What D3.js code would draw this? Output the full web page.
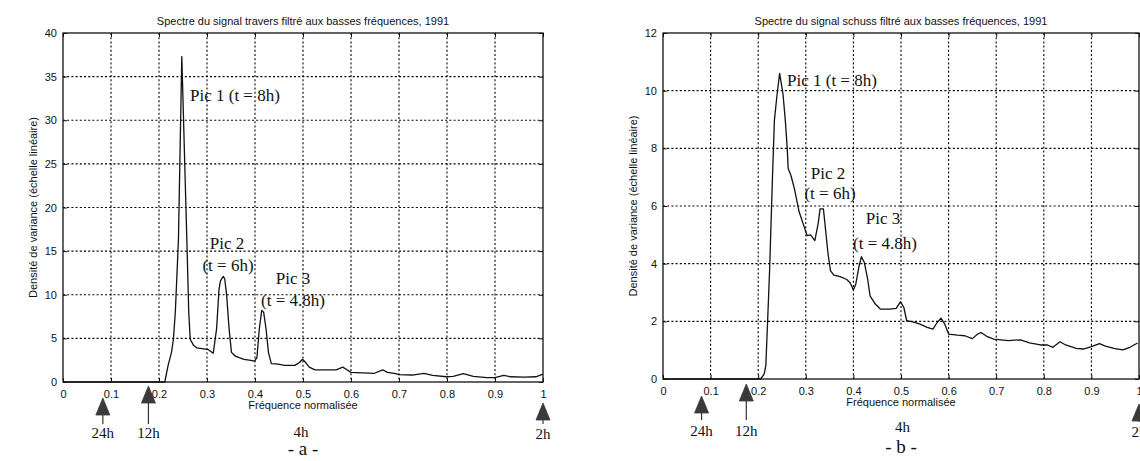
<!DOCTYPE html>
<html>
<head>
<meta charset="utf-8">
<script src="https://cdn.jsdelivr.net/npm/d3@7"></script>
<style>
  html, body { margin: 0; padding: 0; background: #fff; }
  svg { display: block; }
</style>
</head>
<body>
<svg id="chart" width="1140" height="461"></svg>
<script>
// ---------------- DATA ----------------
const titleA = "Spectre du signal travers filtré aux basses fréquences, 1991";
const titleB = "Spectre du signal schuss filtré aux basses fréquences, 1991";
const xLabel = "Fréquence normalisée";
const yLabel = "Densité de variance (échelle linéaire)";

const xTicks = [0, 0.1, 0.2, 0.3, 0.4, 0.5, 0.6, 0.7, 0.8, 0.9, 1];
const yTicksA = [0, 5, 10, 15, 20, 25, 30, 35, 40];
const yTicksB = [0, 2, 4, 6, 8, 10, 12];

// Panel a : spectre "travers"
const freqA = [0, 0.1, 0.2, 0.212, 0.219, 0.226, 0.230, 0.234, 0.2405, 0.2475, 0.258, 0.262,
  0.265, 0.272, 0.279, 0.293, 0.303, 0.313, 0.320, 0.325, 0.328, 0.334, 0.337, 0.341, 0.346,
  0.351, 0.358, 0.367, 0.377, 0.388, 0.399, 0.404, 0.409, 0.414, 0.418, 0.423, 0.428, 0.434,
  0.448, 0.462, 0.473, 0.483, 0.492, 0.499, 0.506, 0.513, 0.525, 0.546, 0.569, 0.583, 0.593,
  0.600, 0.624, 0.649, 0.666, 0.676, 0.693, 0.700, 0.728, 0.752, 0.770, 0.799, 0.813, 0.834,
  0.855, 0.883, 0.900, 0.918, 0.932, 0.960, 0.985, 1.0];
const valA = [0, 0, 0, 0, 1.9, 3.4, 4.9, 8, 16.3, 37.3, 16.3, 8,
  4.9, 4.2, 3.9, 3.8, 3.7, 3.3, 6.1, 10.6, 11.6, 12.1, 11.8, 9.9, 6.1,
  3.4, 3.0, 2.8, 2.6, 2.5, 2.4, 2.8, 6.1, 8.2, 8.0, 6.1, 3.4, 2.1,
  2.05, 1.9, 1.9, 1.9, 2.2, 2.6, 2.2, 1.7, 1.4, 1.4, 1.4, 1.7, 1.35,
  1.1, 1.05, 1.0, 1.4, 1.1, 0.95, 0.85, 0.8, 1.0, 0.75, 0.6, 0.65, 0.95,
  0.65, 0.5, 0.5, 0.75, 0.6, 0.55, 0.6, 0.9];

// Panel b : spectre "schuss"
const freqB = [0, 0.1, 0.205, 0.2125, 0.216, 0.220, 0.224, 0.230, 0.234, 0.239, 0.245, 0.252,
  0.257, 0.261, 0.263, 0.269, 0.276, 0.286, 0.297, 0.303, 0.310, 0.319, 0.326, 0.330, 0.337,
  0.341, 0.347, 0.352, 0.359, 0.372, 0.386, 0.393, 0.400, 0.405, 0.412, 0.417, 0.423, 0.430,
  0.435, 0.446, 0.457, 0.476, 0.490, 0.499, 0.506, 0.512, 0.525, 0.540, 0.555, 0.567, 0.576,
  0.584, 0.592, 0.600, 0.619, 0.634, 0.650, 0.661, 0.668, 0.680, 0.695, 0.710, 0.725, 0.751,
  0.770, 0.793, 0.808, 0.819, 0.834, 0.846, 0.868, 0.883, 0.900, 0.917, 0.928, 0.947, 0.966,
  0.981, 0.997];
const valB = [0, 0, 0, 0.17, 0.46, 2.1, 3.8, 7.0, 8.96, 9.77, 10.6, 9.9,
  8.96, 8.0, 7.3, 7.05, 6.6, 5.8, 5.26, 4.97, 5.0, 4.8, 5.4, 5.9, 5.9,
  5.26, 4.3, 3.75, 3.6, 3.55, 3.45, 3.34, 3.09, 3.29, 3.92, 4.24, 4.04, 3.46,
  2.88, 2.6, 2.42, 2.42, 2.45, 2.68, 2.48, 2.02, 1.98, 1.9, 1.79, 1.73, 1.96,
  2.11, 1.9, 1.56, 1.52, 1.5, 1.4, 1.56, 1.61, 1.48, 1.38, 1.36, 1.33, 1.36,
  1.25, 1.18, 1.18, 1.1, 1.29, 1.18, 1.06, 1.04, 1.12, 1.23, 1.15, 1.06, 1.01,
  1.1, 1.25];

// Peak annotations
const peakLines1 = ["Pic 1 (t = 8h)", "Pic 2", "(t = 6h)", "Pic 3", "(t = 4.8h)"];
// Period markers below the axis
const periodLabels = ["24h", "12h", "4h", "2h"];
const periodFreqA = [0.083, 0.178, 0.496, 1.0];
const periodFreqB = [0.081, 0.175, 0.503, 1.0];
const periodArrow = [true, true, false, true];
const panelTags = ["- a -", "- b -"];

// ---------------- DRAW ----------------
const svg = d3.select("#chart");
svg.append("rect").attr("width", 1140).attr("height", 461).attr("fill", "#fff");

function drawPanel(cfg) {
  const g = svg.append("g");
  const x = d3.scaleLinear().domain([0, 1]).range([cfg.left, cfg.right]);
  const y = d3.scaleLinear().domain([0, cfg.ymax]).range([cfg.bottom, cfg.top]);

  // grid
  g.append("g").selectAll("line.gx").data(xTicks.slice(1, -1)).join("line")
    .attr("x1", d => x(d)).attr("x2", d => x(d))
    .attr("y1", cfg.top).attr("y2", cfg.bottom)
    .attr("stroke", "#000").attr("stroke-width", 1.1).attr("stroke-dasharray", "2,2.2");
  g.append("g").selectAll("line.gy").data(cfg.yTicks.slice(1, -1)).join("line")
    .attr("y1", d => y(d)).attr("y2", d => y(d))
    .attr("x1", cfg.left).attr("x2", cfg.right)
    .attr("stroke", "#000").attr("stroke-width", 1.1).attr("stroke-dasharray", "2,2.2");

  // axes (ticks inward like MATLAB)
  const axB = d3.axisBottom(x).tickValues(xTicks).tickSizeInner(-4).tickSizeOuter(0)
    .tickPadding(8).tickFormat(d => d3.format("~g")(d));
  const axL = d3.axisLeft(y).tickValues(cfg.yTicks).tickSizeInner(-4).tickSizeOuter(0)
    .tickPadding(6).tickFormat(d => d3.format("~g")(d));
  const axT = d3.axisTop(x).tickValues(xTicks).tickSizeInner(-4).tickSizeOuter(0).tickFormat("");
  const axR = d3.axisRight(y).tickValues(cfg.yTicks).tickSizeInner(-4).tickSizeOuter(0).tickFormat("");

  const gb = g.append("g").attr("transform", `translate(0,${cfg.bottom})`).call(axB);
  const gl = g.append("g").attr("transform", `translate(${cfg.left},0)`).call(axL);
  g.append("g").attr("transform", `translate(0,${cfg.top})`).call(axT);
  g.append("g").attr("transform", `translate(${cfg.right},0)`).call(axR);
  g.selectAll(".domain").remove();
  g.selectAll(".tick line").attr("stroke", "#111");
  [gb, gl].forEach(a => a.selectAll("text")
    .attr("font-family", "Liberation Sans, Arial, sans-serif")
    .attr("font-size", 11).attr("fill", "#111"));

  // frame
  g.append("rect").attr("x", cfg.left).attr("y", cfg.top)
    .attr("width", cfg.right - cfg.left).attr("height", cfg.bottom - cfg.top)
    .attr("fill", "none").attr("stroke", "#111").attr("stroke-width", 1.3);

  // curve
  const pts = cfg.freq.map((f, i) => [f, cfg.vals[i]]);
  g.append("path").datum(pts)
    .attr("d", d3.line().x(d => x(d[0])).y(d => y(d[1])))
    .attr("fill", "none").attr("stroke", "#111").attr("stroke-width", 1.3)
    .attr("stroke-linejoin", "round");

  // title
  g.append("text").attr("x", (cfg.left + cfg.right) / 2).attr("y", 25)
    .attr("text-anchor", "middle").attr("font-family", "Liberation Sans, Arial, sans-serif")
    .attr("font-size", 11).attr("fill", "#111").text(cfg.title);

  // axis labels
  g.append("text").attr("x", (cfg.left + cfg.right) / 2).attr("y", cfg.bottom + 27)
    .attr("text-anchor", "middle").attr("font-family", "Liberation Sans, Arial, sans-serif")
    .attr("font-size", 11).attr("fill", "#111").text(xLabel);
  g.append("text")
    .attr("transform", `translate(${cfg.left - 26},${(cfg.top + cfg.bottom) / 2}) rotate(-90)`)
    .attr("text-anchor", "middle").attr("font-family", "Liberation Sans, Arial, sans-serif")
    .attr("font-size", 11).attr("fill", "#111").text(yLabel);

  // peak annotations
  const serif = "Liberation Serif, Times New Roman, serif";
  cfg.notes.forEach((n, i) => {
    g.append("text").attr("x", n[0]).attr("y", n[1]).attr("text-anchor", n[2])
      .attr("font-family", serif).attr("font-size", 17).attr("fill", "#111")
      .text(peakLines1[i]);
  });

  // period markers
  periodLabels.forEach((lab, i) => {
    const px = x(cfg.periods[i]);
    const m = cfg.marks[i];
    if (periodArrow[i]) {
      g.append("line").attr("x1", px).attr("x2", px)
        .attr("y1", m.tip + 10).attr("y2", m.stem)
        .attr("stroke", "#333").attr("stroke-width", 1.2);
      g.append("path")
        .attr("d", `M${px},${m.tip} L${px - 7},${m.tip + 17} L${px + 7},${m.tip + 17} Z`)
        .attr("fill", "#3a3a3a").attr("stroke", "#3a3a3a").attr("stroke-width", 0.8)
        .attr("stroke-linejoin", "round");
    }
    g.append("text").attr("x", px).attr("y", m.text).attr("text-anchor", "middle")
      .attr("font-family", serif).attr("font-size", 15).attr("fill", "#111").text(lab);
  });

  g.append("text").attr("x", x(0.5)).attr("y", cfg.tagY).attr("text-anchor", "middle")
    .attr("font-family", serif).attr("font-size", 19).attr("fill", "#111").text(cfg.tag);
}

drawPanel({
  left: 63, right: 543, top: 33, bottom: 382, ymax: 40, yTicks: yTicksA,
  freq: freqA, vals: valA, title: titleA, tag: panelTags[0], tagY: 455,
  periods: periodFreqA,
  marks: [{tip: 398, stem: 424, text: 438}, {tip: 386, stem: 424, text: 438},
          {tip: 0, stem: 0, text: 437}, {tip: 403, stem: 424, text: 439}],
  notes: [[190, 101, "start"], [227, 249, "middle"], [228, 271, "middle"],
          [293, 284, "middle"], [293, 306, "middle"]]
});

drawPanel({
  left: 663, right: 1139, top: 33, bottom: 379, ymax: 12, yTicks: yTicksB,
  freq: freqB, vals: valB, title: titleB, tag: panelTags[1], tagY: 453,
  periods: periodFreqB,
  marks: [{tip: 396, stem: 420, text: 436}, {tip: 384, stem: 420, text: 436},
          {tip: 0, stem: 0, text: 432}, {tip: 404, stem: 422, text: 437}],
  notes: [[787, 86, "start"], [828, 179, "middle"], [830, 199, "middle"],
          [883, 224, "middle"], [885, 249, "middle"]]
});
</script>
</body>
</html>
